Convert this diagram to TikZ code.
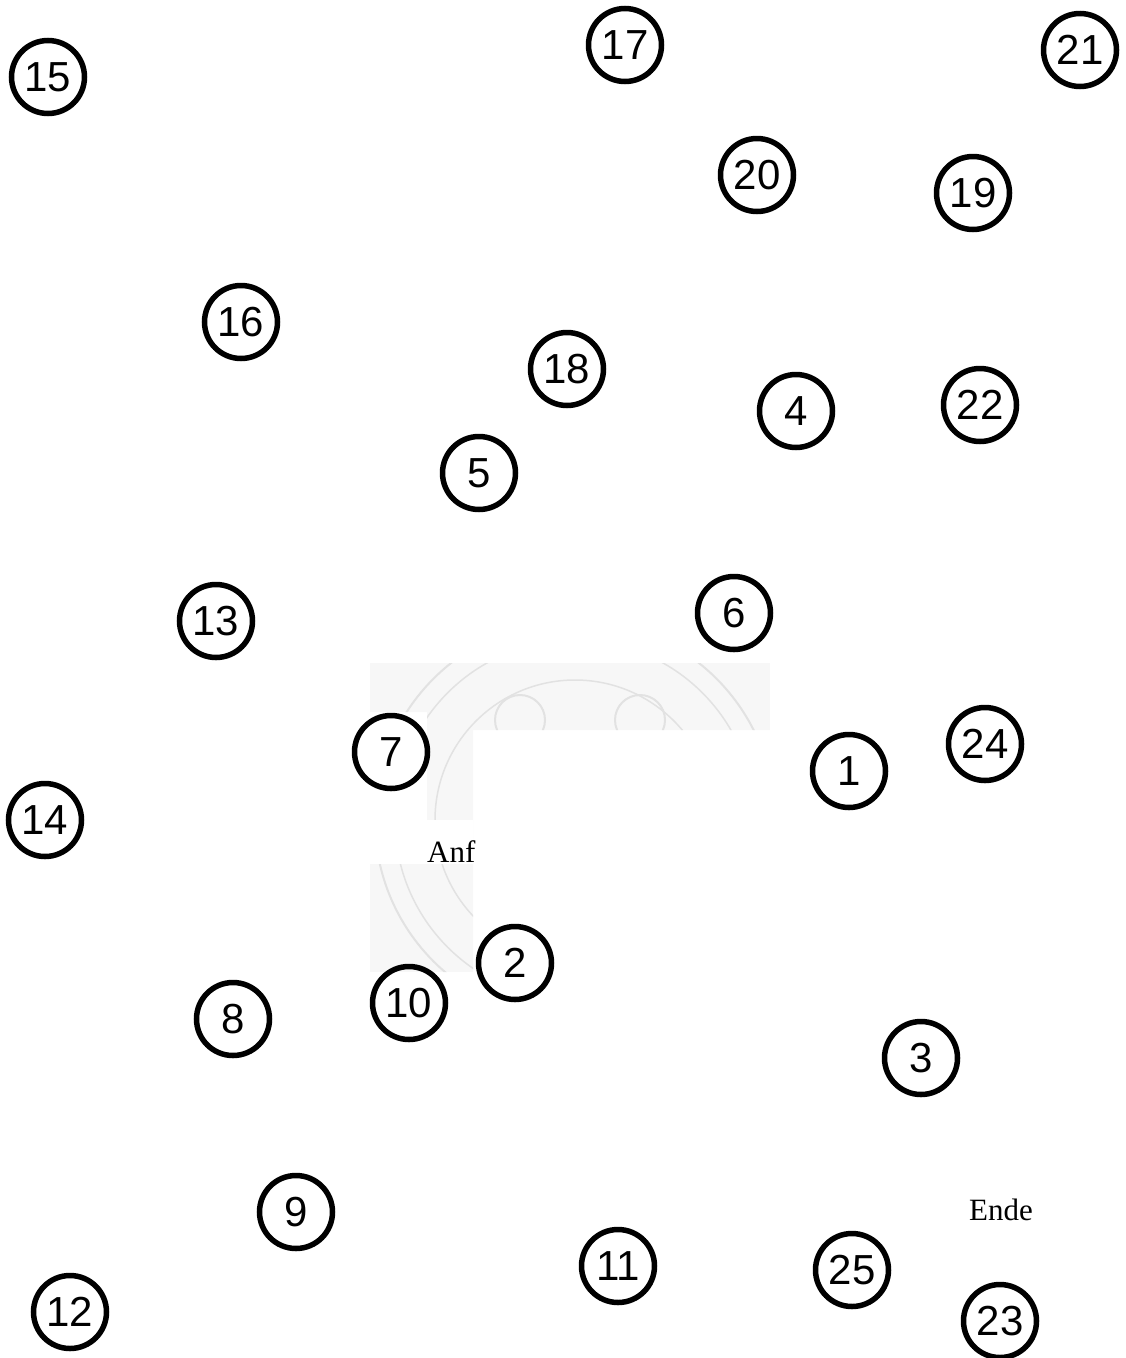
\documentclass[tikz,border=0pt]{standalone}
\usepackage{fontspec}
\setmainfont{Liberation Serif}
\newfontfamily\numfont{Liberation Sans}
\definecolor{sealgray}{RGB}{247, 247, 247}
\definecolor{sealline}{RGB}{226, 226, 226}
\tikzset{
  station/.style={circle, draw=black, line width=5.5pt, minimum size=73pt,
    inner sep=0pt, font=\numfont\fontsize{42}{42}\selectfont},
  marker/.style={font=\fontsize{31}{31}\selectfont, inner sep=0pt}
}

\begin{document}
\begin{tikzpicture}[x=1pt, y=-1pt]
    \useasboundingbox (0,0) rectangle (1125,1358);

    %% faint seal behind the start
    \begin{scope}
      \clip (370,663) -- (770,663) -- (770,730) -- (473,730) -- (473,972)
        -- (370,972) -- (370,864) -- (427,864) -- (427,712) -- (370,712) -- cycle;
      \fill[sealgray] (370,663) rectangle (770,972);
      \draw[sealline, line width=2pt] (575,820) circle (200);
      \draw[sealline, line width=1.5pt] (575,820) circle (180);
      \draw[sealline, line width=1.5pt] (575,820) circle (140);
      \draw[sealline, line width=2pt] (520,720) circle (25);
      \draw[sealline, line width=2pt] (640,720) circle (25);
      \fill[white] (427,820) rectangle (473,864);
    \end{scope}

    %% stations
    \foreach \name/\x/\y in {15/48/77, 17/625/45, 21/1080/50, 20/757/175,
        19/973/193, 16/241/322, 18/567/369, 4/796/411, 22/980/405,
        5/479/473, 13/216/621, 6/734/613, 7/391/752, 1/849/771,
        24/985/744, 14/45/820, 2/515/963, 10/409/1003, 8/233/1019,
        3/921/1058, 9/296/1212, 11/618/1266, 25/852/1270, 12/70/1312,
        23/1000/1321}
      \node[station] (s\name) at (\x,\y) {\name};

    %% start and end labels
    \node[marker, anchor=base west] (start) at (427,862) {Anf};
    \node[marker] (finish) at (1001,1210) {Ende};
\end{tikzpicture}
\end{document}
